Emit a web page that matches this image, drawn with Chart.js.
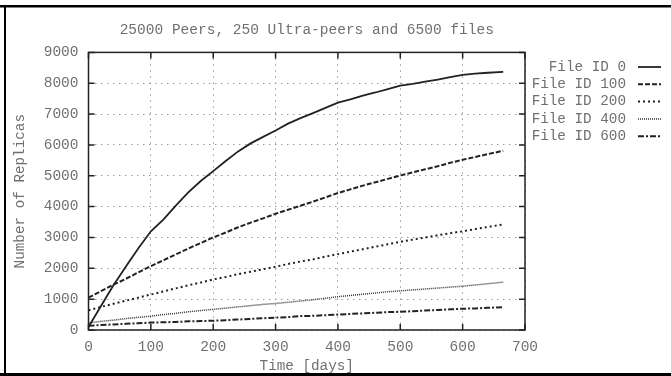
<!DOCTYPE html>
<html>
<head>
<meta charset="utf-8">
<script src="https://cdn.jsdelivr.net/npm/chart.js@4.4.0/dist/chart.umd.min.js"></script>
<style>
  html, body { margin: 0; padding: 0; background: #fff; }
  #wrap { width: 671px; height: 376px; }
</style>
</head>
<body>
<div id="wrap"><canvas id="replicaChart" width="671" height="376"></canvas></div>
<script>
// time axis (days)
const days = [0, 20, 40, 60, 80, 100, 120, 140, 160, 180, 200, 220, 240, 260, 280, 300, 320,
  340, 360, 380, 400, 420, 440, 460, 480, 500, 520, 540, 560, 580, 600, 620, 640, 665];

const file0 = [100, 780, 1450, 2060, 2650, 3200, 3580, 4030, 4460, 4830, 5150, 5480, 5790, 6050,
  6260, 6470, 6690, 6870, 7030, 7200, 7370, 7480, 7600, 7700, 7810, 7920, 7980, 8050, 8120,
  8200, 8270, 8310, 8340, 8370];
const file100 = [1050, 1260, 1470, 1660, 1870, 2070, 2260, 2450, 2640, 2820, 3000, 3160, 3330,
  3480, 3620, 3770, 3900, 4030, 4160, 4300, 4440, 4560, 4680, 4790, 4900, 5010, 5110, 5210,
  5310, 5420, 5520, 5610, 5700, 5810];
const file200 = [640, 750, 850, 950, 1050, 1150, 1250, 1350, 1450, 1540, 1640, 1720, 1810, 1890,
  1970, 2050, 2140, 2220, 2290, 2380, 2460, 2540, 2620, 2700, 2780, 2860, 2930, 3000, 3070,
  3140, 3200, 3270, 3340, 3420];
const file400 = [230, 280, 320, 370, 410, 450, 500, 540, 590, 630, 670, 710, 750, 790, 830, 860,
  900, 940, 980, 1030, 1080, 1120, 1160, 1200, 1240, 1270, 1300, 1330, 1360, 1390, 1420, 1460,
  1500, 1550];
const file600 = [140, 160, 180, 200, 220, 240, 250, 260, 280, 290, 300, 320, 340, 360, 380, 400,
  420, 450, 460, 480, 500, 520, 540, 560, 580, 590, 610, 630, 650, 670, 690, 700, 720, 735];

const seriesNames = ['File ID 0', 'File ID 100', 'File ID 200', 'File ID 400', 'File ID 600'];
const seriesValues = [file0, file100, file200, file400, file600];

const FONT = '"Liberation Mono", "DejaVu Sans Mono", monospace';
const TEXT = '#707070';

// line look per series (gnuplot style)
const styles = [
  { dash: [], width: 1.8, color: '#222' },
  { dash: [5, 2], width: 2, color: '#222' },
  { dash: [2, 3], width: 2, color: '#222' },
  { dash: [1, 1], width: 1.5, color: '#333' },
  { dash: [6, 2, 2, 2], width: 2, color: '#222' },
];

const datasets = seriesNames.map((name, i) => ({
  label: name,
  data: days.map((d, j) => ({ x: d, y: seriesValues[i][j] })),
  borderColor: styles[i].color,
  borderWidth: styles[i].width,
  borderDash: styles[i].dash,
  pointRadius: 0,
  tension: 0,
  fill: false,
}));

// outer frame lines of the picture
const pageFrame = {
  id: 'pageFrame',
  beforeDraw(chart) {
    const c = chart.ctx;
    c.save();
    c.fillStyle = '#fff';
    c.fillRect(0, 0, chart.width, chart.height);
    c.fillStyle = '#000';
    c.fillRect(0, 5, chart.width, 2.5);
    c.fillRect(0, 373, chart.width, 3);
    c.fillRect(4, 5, 2, 371);
    c.restore();
  }
};

// plot border with inward ticks + custom legend
const plotFrame = {
  id: 'plotFrame',
  afterDraw(chart) {
    const c = chart.ctx;
    const a = chart.chartArea;
    const xs = chart.scales.x, ys = chart.scales.y;
    c.save();
    c.strokeStyle = '#222';
    c.lineWidth = 1.5;
    c.setLineDash([]);
    c.strokeRect(a.left, a.top, a.right - a.left, a.bottom - a.top);
    c.beginPath();
    xs.ticks.forEach(t => {
      const px = xs.getPixelForValue(t.value);
      c.moveTo(px, a.bottom); c.lineTo(px, a.bottom - 6);
      c.moveTo(px, a.top); c.lineTo(px, a.top + 6);
    });
    ys.ticks.forEach(t => {
      const py = ys.getPixelForValue(t.value);
      c.moveTo(a.left, py); c.lineTo(a.left + 6, py);
      c.moveTo(a.right, py); c.lineTo(a.right - 6, py);
    });
    c.stroke();

    // legend
    c.font = '14.3px ' + FONT;
    c.textAlign = 'right';
    c.textBaseline = 'middle';
    seriesNames.forEach((name, i) => {
      const y = 67 + i * 17.3;
      c.fillStyle = TEXT;
      c.fillText(name, 626, y);
      c.strokeStyle = styles[i].color;
      c.lineWidth = styles[i].width;
      c.setLineDash(styles[i].dash);
      c.beginPath();
      c.moveTo(638, y);
      c.lineTo(661, y);
      c.stroke();
    });
    c.restore();
  }
};

const gridDash = [1.5, 4.5];

new Chart(document.getElementById('replicaChart'), {
  type: 'line',
  data: { datasets: datasets },
  options: {
    responsive: false,
    animation: false,
    devicePixelRatio: 1,
    layout: { padding: { top: 0, right: 146, bottom: 0, left: 0 } },
    plugins: {
      legend: { display: false },
      tooltip: { enabled: false },
      title: {
        display: true,
        text: '25000 Peers, 250 Ultra-peers and 6500 files',
        fullSize: false,
        color: TEXT,
        font: { family: FONT, size: 14.5, weight: 'normal', lineHeight: 1.2 },
        padding: { top: 21, bottom: 14 },
      },
    },
    scales: {
      x: {
        type: 'linear',
        min: 0,
        max: 700,
        ticks: {
          stepSize: 100,
          color: TEXT,
          padding: 8,
          maxRotation: 0,
          font: { family: FONT, size: 14.5 },
          callback: v => String(v),
        },
        grid: {
          color: '#9a9a9a',
          lineWidth: 1,
          drawTicks: false,
        },
        border: { display: false, dash: gridDash },
        title: {
          display: true,
          text: 'Time [days]',
          color: TEXT,
          font: { family: FONT, size: 14.3, lineHeight: 1.2 },
          padding: { top: 0, bottom: 1.5 },
        },
        afterFit(scale) { scale.height = 46; },
      },
      y: {
        type: 'linear',
        min: 0,
        max: 9000,
        ticks: {
          stepSize: 1000,
          color: TEXT,
          padding: 10,
          font: { family: FONT, size: 14.5 },
          callback: v => String(v),
        },
        grid: {
          color: '#9a9a9a',
          lineWidth: 1,
          drawTicks: false,
        },
        border: { display: false, dash: gridDash },
        title: {
          display: true,
          text: 'Number of Replicas',
          color: TEXT,
          font: { family: FONT, size: 14.3, lineHeight: 1.2 },
          padding: { top: 11.5, bottom: 0 },
        },
        afterFit(scale) { scale.width = 88.5; },
      },
    },
  },
  plugins: [pageFrame, plotFrame],
});
</script>
</body>
</html>
